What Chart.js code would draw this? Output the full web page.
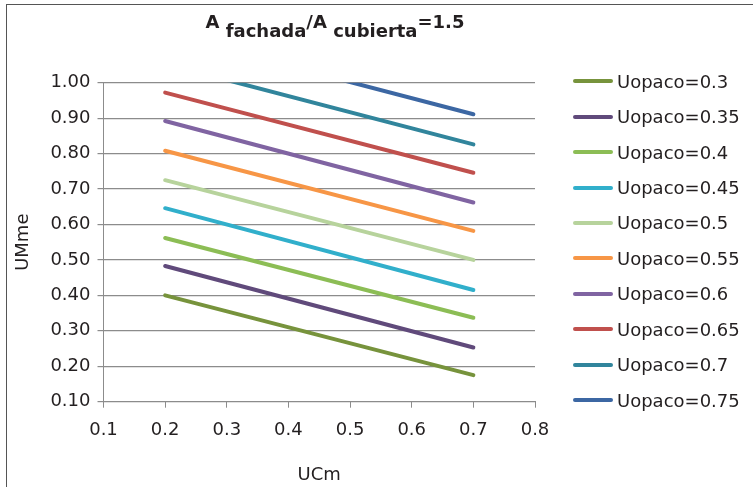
<!DOCTYPE html>
<html>
<head>
<meta charset="utf-8">
<script src="https://cdn.jsdelivr.net/npm/chart.js@4.4.1/dist/chart.umd.min.js"></script>
<style>
  body { margin: 0; background: #fff; font-family: "DejaVu Sans", sans-serif; }
  #wrap { position: relative; width: 753px; height: 487px; overflow: hidden; }
  #frame { position: absolute; left: 6px; top: 4px; width: 800px; height: 600px;
           border-left: 1.5px solid #555; border-top: 1.5px solid #555; }
  #title { position: absolute; left: 0; width: 670px; top: 11px; text-align: center;
           font-weight: bold; font-size: 18px; color: #231f20; white-space: nowrap; }
  #title sub { font-size: 18px; vertical-align: -9px; }
  #legend { position: absolute; left: 573px; top: 63.5px; color: #231f20; font-size: 18px; }
  .row { height: 35.45px; display: flex; align-items: center; }
  .sw { width: 40px; height: 4px; border-radius: 2px; margin-right: 4px; }
  canvas { position: absolute; left: 0; top: 0; }
</style>
</head>
<body>
<div id="wrap">
  <div id="frame"></div>
  <canvas id="chart" width="753" height="487"></canvas>
  <div id="title">A <sub>fachada</sub>/A <sub>cubierta</sub>=1.5</div>
  <div id="legend"></div>
</div>
<script>
// valores
const uOpaco = [0.3, 0.35, 0.4, 0.45, 0.5, 0.55, 0.6, 0.65, 0.7, 0.75];
const uCm = [0.2, 0.7];
const uMme03 = [0.400, 0.175];
const uMme035 = [0.483, 0.253];
const uMme04 = [0.562, 0.337];
const uMme045 = [0.646, 0.415];
const uMme05 = [0.725, 0.500];
const uMme055 = [0.808, 0.582];
const uMme06 = [0.892, 0.662];
const uMme065 = [0.972, 0.746];
const uMme07 = [1.053, 0.826];
const uMme075 = [1.138, 0.911];
const yTicks = [0.1, 0.2, 0.3, 0.4, 0.5, 0.6, 0.7, 0.8, 0.9, 1.0];
const xTicks = [0.1, 0.2, 0.3, 0.4, 0.5, 0.6, 0.7, 0.8];

const series = [uMme03, uMme035, uMme04, uMme045, uMme05, uMme055, uMme06, uMme065, uMme07, uMme075];
const colors = ["#77933c", "#604a7b", "#8cbd55", "#31afcb", "#b7d39c",
                "#f79646", "#8064a2", "#c0504d", "#31859c", "#3c67a3"];

const gridColor = "#8c8c8c";
const txt = "#231f20";
const font = { family: "'DejaVu Sans', sans-serif", size: 18 };

const datasets = series.map((vals, i) => ({
  label: "Uopaco=" + uOpaco[i],
  data: vals.map((v, j) => ({ x: uCm[j], y: v })),
  borderColor: colors[i],
  backgroundColor: colors[i],
  borderWidth: 4,
  borderCapStyle: "round",
  pointRadius: 0,
  tension: 0,
  clip: 0,
}));

// leyenda
const legend = document.getElementById("legend");
datasets.forEach((d) => {
  const row = document.createElement("div");
  row.className = "row";
  row.innerHTML = '<div class="sw" style="background:' + d.borderColor + '"></div><span>' + d.label + "</span>";
  legend.appendChild(row);
});

new Chart(document.getElementById("chart"), {
  type: "line",
  data: { datasets: datasets },
  options: {
    responsive: false,
    animation: false,
    layout: { padding: { left: 0, top: 82.7, right: 218, bottom: 0 } },
    plugins: { legend: { display: false }, tooltip: { enabled: false } },
    scales: {
      x: {
        type: "linear",
        min: 0.1,
        max: 0.8,
        afterBuildTicks: (s) => { s.ticks = xTicks.map((v) => ({ value: v })); },
        afterFit: (s) => { s.height = 487 - 401.7; },
        ticks: { font: font, color: txt, padding: 12, callback: (v) => v.toFixed(1), maxRotation: 0 },
        grid: { drawOnChartArea: false, drawTicks: true, tickLength: 6, color: gridColor },
        border: { display: true, color: gridColor, width: 1 },
        title: { display: true, text: "UCm", font: font, color: txt, padding: { top: 0, bottom: 1 } },
      },
      y: {
        min: 0.1,
        max: 1.0,
        afterBuildTicks: (s) => { s.ticks = yTicks.map((v) => ({ value: v })); },
        afterFit: (s) => { s.width = 103.5; },
        ticks: { font: font, color: txt, padding: 7, callback: (v) => v.toFixed(2) },
        grid: { drawTicks: true, tickLength: 6, color: gridColor, lineWidth: 1.2 },
        border: { display: true, color: gridColor, width: 1 },
        title: { display: true, text: "UMme", font: font, color: txt, padding: { top: 13, bottom: 0 } },
      },
    },
  },
});
</script>
</body>
</html>
